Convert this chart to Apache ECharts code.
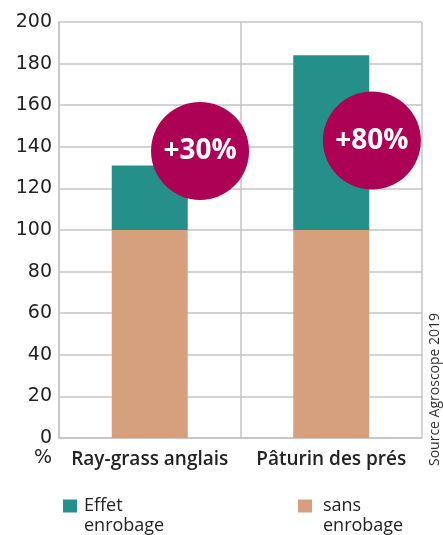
<!DOCTYPE html>
<html><head><meta charset="utf-8">
<script src="https://cdn.jsdelivr.net/npm/echarts@6/dist/echarts.min.js"></script>
<style>html,body{margin:0;padding:0;background:#fff}#c{width:443px;height:535px}</style>
</head><body><div id="c"></div>
<script>
const categories = ['Ray-grass anglais', 'Pâturin des prés'];
const sansEnrobage = [100, 100];
const effetEnrobage = [31, 84];
const badgeLabels = ['+30%', '+80%'];
const badgePos = [[0.777, 138], [1.724, 143]];
const yTicks = [0, 20, 40, 60, 80, 100, 120, 140, 160, 180, 200];

const chart = echarts.init(document.getElementById('c'), null, {renderer: 'canvas'});
const font = '"Open Sans", Roboto, sans-serif';
const numFont = '"DejaVu Sans", "Open Sans", sans-serif';
const gridColor = '#c4c4c4';
const legendText = n => {
  const parts = n.split(' ');
  return '{p| }\n{a|' + parts[0] + '}\n{a|' + parts[1] + '}';
};
const legendRich = {
  p: {fontSize: 18, lineHeight: 20},
  a: {fontSize: 18, lineHeight: 20, color: '#222', fontFamily: font}
};
chart.setOption({
  animation: false,
  textStyle: {fontFamily: font},
  grid: {left: 59, right: 21, top: 22, bottom: 97, containLabel: false},
  legend: [
    {data: ['Effet enrobage'], left: 58, top: 472, icon: 'rect', itemWidth: 14, itemHeight: 13, itemGap: 6,
     formatter: legendText,
     textStyle: {fontSize: 18, color: '#222', fontFamily: font, padding: [0, 0, 0, 2], rich: legendRich}},
    {data: ['sans enrobage'], left: 293, top: 472, icon: 'rect', itemWidth: 14, itemHeight: 13,
     formatter: legendText,
     textStyle: {fontSize: 18, color: '#222', fontFamily: font, padding: [0, 0, 0, 6], rich: legendRich}}
  ],
  xAxis: [
    {type: 'category', data: categories, axisTick: {show: false},
     axisLine: {show: true, lineStyle: {color: gridColor, width: 1.5}},
     splitLine: {show: true, interval: 0, lineStyle: {color: gridColor, width: 1.5}},
     axisLabel: {interval: 0, hideOverlap: false, fontSize: 19, fontWeight: 600, color: '#222', margin: 12, fontFamily: font}},
    {type: 'value', min: 0, max: 2, show: false}
  ],
  yAxis: {type: 'value', min: 0, max: 200, interval: 20,
    axisLine: {show: true, lineStyle: {color: gridColor, width: 1.5}},
    axisTick: {show: false},
    splitLine: {lineStyle: {color: gridColor, width: 1.5}},
    axisLabel: {fontSize: 19, color: '#222', margin: 7, fontFamily: numFont,
      formatter: v => yTicks.includes(v) ? String(v) : ''}},
  series: [
    {name: 'sans enrobage', type: 'bar', stack: 't', data: sansEnrobage, barWidth: 76,
     itemStyle: {color: '#D6A07E'}},
    {name: 'Effet enrobage', type: 'bar', stack: 't', data: effetEnrobage, barWidth: 76,
     itemStyle: {color: '#25908A'}},
    {name: 'badge', type: 'scatter', xAxisIndex: 1, symbol: 'circle', symbolSize: 98,
     data: badgePos.map((p, i) => ({value: p, label: {formatter: badgeLabels[i]}})),
     itemStyle: {color: '#AC0155', opacity: 1},
     label: {show: true, position: 'inside', color: '#fff', fontSize: 28, fontWeight: 'bold', fontFamily: font},
     z: 10}
  ],
  graphic: [
    {type: 'text', left: 34, top: 449, style: {text: '%', fontSize: 19, fill: '#222', fontFamily: numFont}},
    {type: 'text', x: 428, y: 466, rotation: Math.PI / 2,
     style: {text: 'Source Agroscope 2019', fontSize: 14, fill: '#333', fontFamily: font}}
  ]
});
</script></body></html>
